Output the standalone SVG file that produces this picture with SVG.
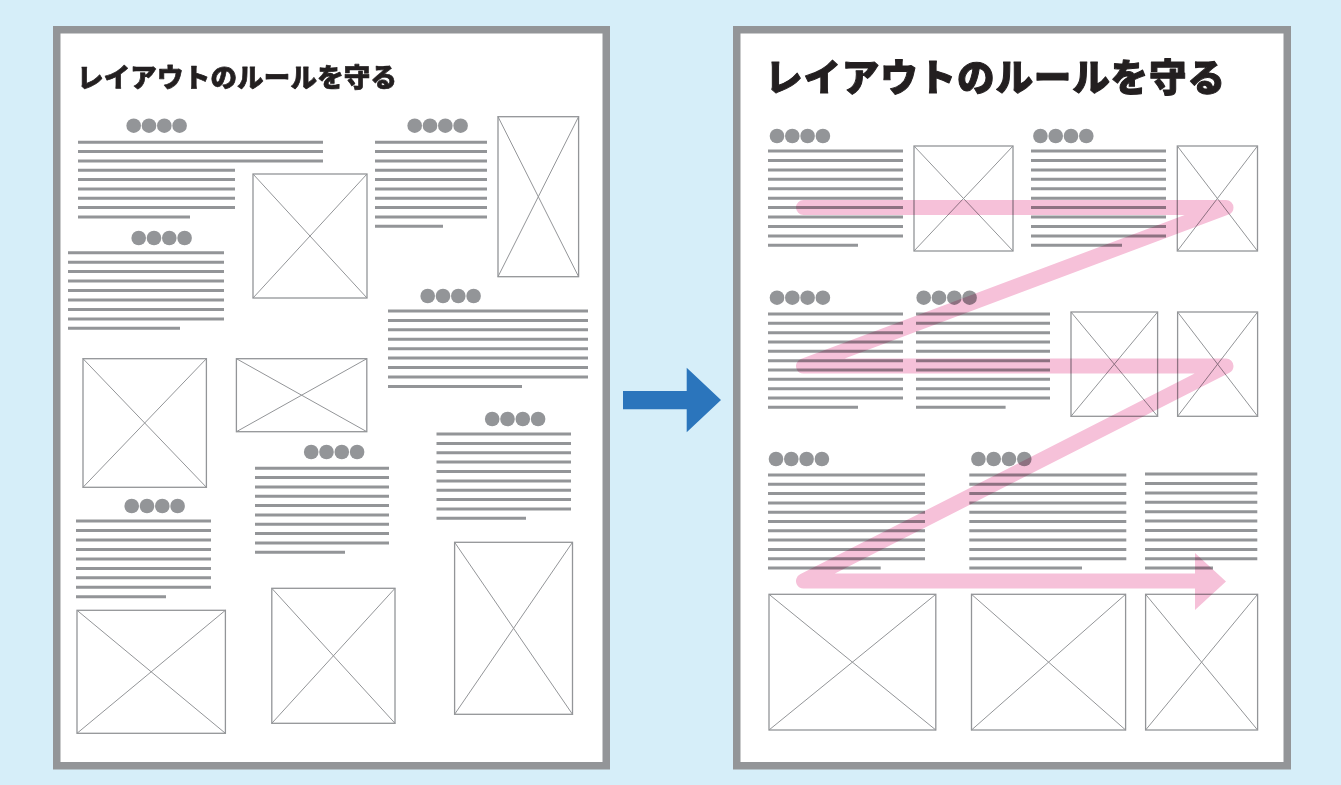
<svg xmlns="http://www.w3.org/2000/svg" xmlns:xlink="http://www.w3.org/1999/xlink" width="1341" height="785" viewBox="0 0 1341 785">
<style>
.page{fill:#ffffff;stroke:#939598;stroke-width:7.5}
.title{font-family:"Noto Sans CJK JP","Noto Sans CJK SC",sans-serif;font-weight:900;fill:#231f20;stroke:#231f20;stroke-linejoin:round}
.tl{stroke:#939598;stroke-width:3;fill:none}
.img rect{fill:#ffffff;stroke:#939598;stroke-width:1.3}
.img path{stroke:#939598;stroke-width:1;fill:none}
.dot{fill:#939598}
.flow{fill:none;stroke:#f6c1d9;stroke-width:15;stroke-linecap:round;stroke-linejoin:round}
</style>
<defs>
<g id="dots" class="dot"><circle cx="0" cy="0" r="7.3"/><circle cx="15.3" cy="0" r="7.3"/><circle cx="30.6" cy="0" r="7.3"/><circle cx="45.9" cy="0" r="7.3"/></g>
</defs>
<rect x="0" y="0" width="1341" height="785" fill="#d6eef9"/>

<g id="page-left">
<rect class="page" x="56.75" y="29.75" width="549.5" height="736"/>
<text class="title" x="77" y="87" font-size="26.5" stroke-width="0.7" textLength="320" lengthAdjust="spacing">レイアウトのルールを守る</text>
</g>

<g id="L-blockA">
<use xlink:href="#dots" x="133.7" y="125.7"/>
<path class="tl" d="M78 142.3H323M78 151.6H323M78 161H323M78 170.3H235M78 179.6H235M78 189H235M78 198.3H235M78 207.6H235M78 217H190"/>
</g>
<g id="L-imgA" class="img"><rect x="253" y="174" width="114" height="124"/><path d="M253 174L367 298M367 174L253 298"/></g>

<g id="L-blockB">
<use xlink:href="#dots" x="414.7" y="125.7"/>
<path class="tl" d="M375 142.3H487M375 151.6H487M375 161H487M375 170.3H487M375 179.6H487M375 189H487M375 198.3H487M375 207.6H487M375 217H487M375 226.3H443"/>
</g>
<g id="L-imgB" class="img"><rect x="498" y="116.7" width="80.6" height="160"/><path d="M498 116.7L578.6 276.7M578.6 116.7L498 276.7"/></g>

<g id="L-blockC">
<use xlink:href="#dots" x="138.7" y="238"/>
<path class="tl" d="M68 252.7H224M68 262.2H224M68 271.6H224M68 281.1H224M68 290.5H224M68 300H224M68 309.4H224M68 318.9H224M68 328.3H180"/>
</g>

<g id="L-blockD">
<use xlink:href="#dots" x="427.7" y="296"/>
<path class="tl" d="M388 311H588M388 320.4H588M388 329.8H588M388 339.3H588M388 348.7H588M388 358.1H588M388 367.5H588M388 376.9H588M388 386.4H522"/>
</g>

<g id="L-imgE" class="img"><rect x="83" y="358.7" width="123.4" height="128.6"/><path d="M83 358.7L206.4 487.3M206.4 358.7L83 487.3"/></g>
<g id="L-imgF" class="img"><rect x="236.4" y="358.7" width="130.4" height="73"/><path d="M236.4 358.7L366.8 431.7M366.8 358.7L236.4 431.7"/></g>

<g id="L-blockG">
<use xlink:href="#dots" x="311.2" y="452"/>
<path class="tl" d="M255 468.3H389M255 477.6H389M255 487H389M255 496.3H389M255 505.6H389M255 515H389M255 524.3H389M255 533.6H389M255 543H389M255 552.3H345"/>
</g>

<g id="L-blockH">
<use xlink:href="#dots" x="492.2" y="419"/>
<path class="tl" d="M436.5 434H571M436.5 443.4H571M436.5 452.7H571M436.5 462.1H571M436.5 471.5H571M436.5 480.9H571M436.5 490.2H571M436.5 499.6H571M436.5 509H571M436.5 518.3H526"/>
</g>

<g id="L-blockI">
<use xlink:href="#dots" x="131.7" y="506"/>
<path class="tl" d="M76 521H211M76 530.5H211M76 539.9H211M76 549.4H211M76 558.9H211M76 568.4H211M76 577.8H211M76 587.3H211M76 596.8H166"/>
</g>

<g id="L-imgJ" class="img"><rect x="77" y="610.3" width="148.4" height="123"/><path d="M77 610.3L225.4 733.3M225.4 610.3L77 733.3"/></g>
<g id="L-imgK" class="img"><rect x="271.8" y="588.3" width="123.2" height="135"/><path d="M271.8 588.3L395 723.3M395 588.3L271.8 723.3"/></g>
<g id="L-imgL" class="img"><rect x="454.6" y="542.3" width="117.9" height="172"/><path d="M454.6 542.3L572.5 714.3M572.5 542.3L454.6 714.3"/></g>

<g id="page-right">
<rect class="page" x="736.75" y="29.75" width="550.5" height="736"/>
<text class="title" x="765" y="91" font-size="37.6" stroke-width="1" textLength="460" lengthAdjust="spacing">レイアウトのルールを守る</text>
</g>

<g id="R-row1-col1">
<use xlink:href="#dots" x="777" y="136"/>
<path class="tl" d="M768 151H903M768 160.4H903M768 169.9H903M768 179.3H903M768 188.7H903M768 198.2H903M768 207.6H903M768 217H903M768 226.4H903M768 235.9H903M768 245.3H858"/>
</g>
<g id="R-img1" class="img"><rect x="914" y="146" width="99" height="105"/><path d="M914 146L1013 251M1013 146L914 251"/></g>
<g id="R-row1-col2">
<use xlink:href="#dots" x="1040.4" y="136"/>
<path class="tl" d="M1031 151H1166M1031 160.4H1166M1031 169.9H1166M1031 179.3H1166M1031 188.7H1166M1031 198.2H1166M1031 207.6H1166M1031 217H1166M1031 226.4H1166M1031 235.9H1166M1031 245.3H1122"/>
</g>
<g id="R-img2" class="img"><rect x="1177.3" y="146" width="80.2" height="105"/><path d="M1177.3 146L1257.5 251M1257.5 146L1177.3 251"/></g>

<g id="R-row2-col1">
<use xlink:href="#dots" x="777" y="297.7"/>
<path class="tl" d="M768 314H903M768 323.3H903M768 332.7H903M768 342H903M768 351.3H903M768 360.7H903M768 370H903M768 379.3H903M768 388.7H903M768 398H903M768 407.3H858"/>
</g>
<g id="R-row2-col2">
<use xlink:href="#dots" x="923.7" y="297.7"/>
<path class="tl" d="M916 314H1050M916 323.3H1050M916 332.7H1050M916 342H1050M916 351.3H1050M916 360.7H1050M916 370H1050M916 379.3H1050M916 388.7H1050M916 398H1050M916 407.3H1005.6"/>
</g>
<g id="R-img3" class="img"><rect x="1071" y="312" width="86.6" height="104.3"/><path d="M1071 312L1157.6 416.3M1157.6 312L1071 416.3"/></g>
<g id="R-img4" class="img"><rect x="1177.6" y="312" width="80" height="104.3"/><path d="M1177.6 312L1257.6 416.3M1257.6 312L1177.6 416.3"/></g>

<g id="R-row3-col1">
<use xlink:href="#dots" x="776" y="459"/>
<path class="tl" d="M768 475H925M768 484.3H925M768 493.6H925M768 502.9H925M768 512.2H925M768 521.5H925M768 530.8H925M768 540.1H925M768 549.4H925M768 558.7H925M768 568H880.7"/>
</g>
<g id="R-row3-col2">
<use xlink:href="#dots" x="978.4" y="459"/>
<path class="tl" d="M969.3 475H1126.3M969.3 484.3H1126.3M969.3 493.6H1126.3M969.3 502.9H1126.3M969.3 512.2H1126.3M969.3 521.5H1126.3M969.3 530.8H1126.3M969.3 540.1H1126.3M969.3 549.4H1126.3M969.3 558.7H1126.3M969.3 568H1082"/>
</g>
<g id="R-row3-col3">
<path class="tl" d="M1145 474H1257.3M1145 483.5H1257.3M1145 492.9H1257.3M1145 502.3H1257.3M1145 511.7H1257.3M1145 521.1H1257.3M1145 530.5H1257.3M1145 540H1257.3M1145 549.4H1257.3M1145 558.7H1257.3M1145 568H1213"/>
</g>

<g id="R-img5" class="img"><rect x="769" y="594.3" width="166.8" height="135.7"/><path d="M769 594.3L935.8 730M935.8 594.3L769 730"/></g>
<g id="R-img6" class="img"><rect x="971.5" y="594.3" width="154.1" height="135.7"/><path d="M971.5 594.3L1125.6 730M1125.6 594.3L971.5 730"/></g>
<g id="R-img7" class="img"><rect x="1145.6" y="594.3" width="112" height="135.7"/><path d="M1145.6 594.3L1257.6 730M1257.6 594.3L1145.6 730"/></g>

<g id="connectors">
<path id="arrow-blue" fill="#2b75bc" d="M623 391H686.7V367.7L721 400L686.7 432.3V409.3H623Z"/>
<g id="reading-flow" style="mix-blend-mode:multiply">
<path class="flow" d="M803.5 207.5H1226L803.5 366H1226L803.5 581H1196"/>
<polygon fill="#f6c1d9" points="1195,553 1226,581.5 1195,610"/>
</g>
</g>
</svg>
